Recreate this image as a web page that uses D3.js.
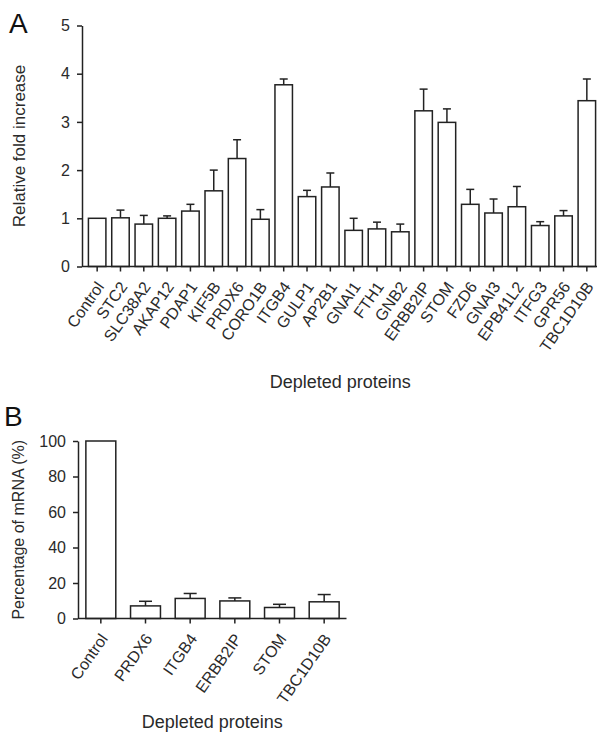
<!DOCTYPE html>
<html>
<head>
<meta charset="utf-8">
<script src="https://cdn.jsdelivr.net/npm/d3@7"></script>
<style>
  html, body { margin: 0; padding: 0; background: #fff; }
  svg { display: block; font-family: "Liberation Sans", Arial, sans-serif; }
</style>
</head>
<body>
<svg id="chart" width="597" height="732"></svg>
<script>
// Panel A data
const catsA = ["Control","STC2","SLC38A2","AKAP12","PDAP1","KIF5B","PRDX6","CORO1B","ITGB4","GULP1","AP2B1","GNAI1","FTH1","GNB2","ERBB2IP","STOM","FZD6","GNAI3","EPB41L2","ITFG3","GPR56","TBC1D10B"];
const meanA = [1.0,1.01,0.88,1.0,1.15,1.57,2.24,0.98,3.77,1.45,1.65,0.75,0.78,0.72,3.23,2.99,1.29,1.11,1.24,0.85,1.05,3.44];
const errA  = [0,0.16,0.18,0.05,0.14,0.43,0.39,0.20,0.12,0.13,0.29,0.25,0.14,0.16,0.45,0.28,0.31,0.29,0.42,0.08,0.11,0.45];
const ticksA = [0,1,2,3,4,5];

// Panel B data
const catsB = ["Control","PRDX6","ITGB4","ERBB2IP","STOM","TBC1D10B"];
const meanB = [100,7.1,11.3,9.9,6.2,9.4];
const errB  = [0,2.6,2.8,1.7,1.8,4.1];
const ticksB = [0,20,40,60,80,100];

const svg = d3.select("#chart");
const ink = "#222";
const txt = "#2a2a2a";

function panel(cfg) {
  const g = svg.append("g");
  const x = d3.scaleBand().domain(cfg.cats).range(cfg.xRange)
    .paddingInner(cfg.pad).paddingOuter(cfg.pad / 2);
  const y = d3.scaleLinear().domain(cfg.yDomain).range(cfg.yRange);
  const data = cfg.cats.map((c, i) => ({c, v: cfg.mean[i], e: cfg.err[i]}));

  // bars
  g.selectAll("rect.bar").data(data).join("rect")
    .attr("class", "bar")
    .attr("x", d => x(d.c))
    .attr("width", x.bandwidth())
    .attr("y", d => y(d.v))
    .attr("height", d => y(0) - y(d.v))
    .attr("fill", "#fff").attr("stroke", ink).attr("stroke-width", 1.5);

  // error bars (upper only)
  const eb = data.filter(d => d.e > 0);
  g.selectAll("line.err").data(eb).join("line")
    .attr("x1", d => x(d.c) + x.bandwidth() / 2).attr("x2", d => x(d.c) + x.bandwidth() / 2)
    .attr("y1", d => y(d.v)).attr("y2", d => y(d.v + d.e))
    .attr("stroke", ink).attr("stroke-width", 1.5);
  g.selectAll("line.cap").data(eb).join("line")
    .attr("x1", d => x(d.c) + x.bandwidth() / 2 - cfg.cap / 2)
    .attr("x2", d => x(d.c) + x.bandwidth() / 2 + cfg.cap / 2)
    .attr("y1", d => y(d.v + d.e)).attr("y2", d => y(d.v + d.e))
    .attr("stroke", ink).attr("stroke-width", 1.5);

  // y axis
  const ya = g.append("g").attr("transform", `translate(${cfg.axisX},0)`)
    .call(d3.axisLeft(y).tickValues(cfg.ticks).tickFormat(d3.format("d"))
      .tickSize(5).tickSizeOuter(0).tickPadding(7));
  ya.select(".domain").attr("stroke", ink).attr("stroke-width", 1.5);
  ya.selectAll(".tick line").attr("stroke", ink).attr("stroke-width", 1.5);
  ya.selectAll(".tick text").attr("fill", txt).style("font-size", "16px");

  // x axis
  const xa = g.append("g").attr("transform", `translate(0,${y(0)})`)
    .call(d3.axisBottom(x).tickSize(5).tickSizeOuter(0));
  xa.select(".domain").remove();
  xa.append("line").attr("x1", cfg.axisX).attr("x2", cfg.xRange[1])
    .attr("stroke", ink).attr("stroke-width", 1.5);
  xa.selectAll(".tick line").attr("stroke", ink).attr("stroke-width", 1.5);
  xa.selectAll(".tick text")
    .attr("fill", txt).style("font-size", "16px")
    .attr("x", 0).attr("y", 0).attr("dy", "0.35em")
    .attr("text-anchor", "end")
    .attr("transform", "translate(3,17) rotate(-55)");

  // titles
  g.append("text").attr("transform", `translate(${cfg.yTitleX},${(cfg.yRange[0] + cfg.yRange[1]) / 2}) rotate(-90)`)
    .attr("text-anchor", "middle").attr("fill", txt).style("font-size", cfg.yTitleSize)
    .text(cfg.yTitle);
  g.append("text").attr("x", (cfg.axisX + cfg.xRange[1]) / 2).attr("y", cfg.xTitleY)
    .attr("text-anchor", "middle").attr("fill", txt).style("font-size", "18px")
    .text("Depleted proteins");
  g.append("text").attr("x", cfg.letterX).attr("y", cfg.letterY)
    .attr("fill", "#111").style("font-size", "28px").text(cfg.letter);
}

panel({
  cats: catsA, mean: meanA, err: errA, ticks: ticksA,
  xRange: [85.5, 598.5], pad: 0.25, yDomain: [0, 5], yRange: [266.5, 25.5],
  axisX: 82, cap: 8, yTitle: "Relative fold increase", yTitleX: 25, yTitleSize: "17px",
  xTitleY: 388, letter: "A", letterX: 9, letterY: 33
});

panel({
  cats: catsB, mean: meanB, err: errB, ticks: ticksB,
  xRange: [78.5, 346.5], pad: 0.33, yDomain: [0, 100], yRange: [618.5, 441],
  axisX: 78, cap: 13, yTitle: "Percentage of mRNA (%)", yTitleX: 24, yTitleSize: "16px",
  xTitleY: 728, letter: "B", letterX: 4, letterY: 426
});
</script>
</body>
</html>
